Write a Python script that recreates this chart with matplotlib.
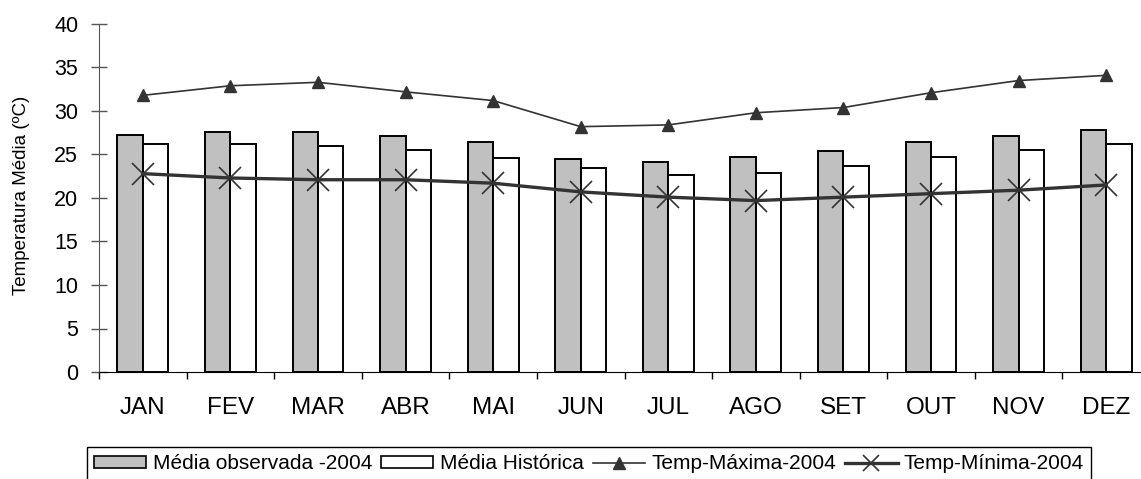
import numpy as np
import matplotlib
matplotlib.use("Agg")
import matplotlib.pyplot as plt
from matplotlib.patches import Patch
from matplotlib.lines import Line2D

plt.rcParams['font.family'] = ['Liberation Sans', 'DejaVu Sans']

# dados mensais de temperatura (ºC)
meses = ["JAN", "FEV", "MAR", "ABR", "MAI", "JUN", "JUL", "AGO", "SET", "OUT", "NOV", "DEZ"]
media_obs_2004 = [27.2, 27.6, 27.6, 27.1, 26.4, 24.5, 24.1, 24.7, 25.4, 26.4, 27.1, 27.8]
media_historica = [26.2, 26.2, 26.0, 25.5, 24.6, 23.5, 22.7, 22.9, 23.7, 24.7, 25.5, 26.2]
temp_max_2004 = [31.8, 32.9, 33.3, 32.2, 31.2, 28.2, 28.4, 29.8, 30.4, 32.1, 33.5, 34.1]
temp_min_2004 = [22.8, 22.3, 22.1, 22.1, 21.7, 20.7, 20.1, 19.7, 20.1, 20.5, 20.9, 21.5]

cinza_linha = '#333333'
largura = 0.29
W, H = 1141, 479

fig = plt.figure(figsize=(W / 100, H / 100), dpi=100)
ax = fig.add_axes([99 / W, 107 / H, 1051 / W, 348 / H])

x = np.arange(len(meses))
ax.bar(x - largura / 2, media_obs_2004, largura, color='#c0c0c0', edgecolor='black', linewidth=1.4, zorder=2)
ax.bar(x + largura / 2, media_historica, largura, color='white', edgecolor='black', linewidth=1.4, zorder=2)

ax.plot(x, temp_max_2004, color=cinza_linha, linewidth=1.2, marker='^', markersize=9, zorder=3)
ax.plot(x, temp_min_2004, color=cinza_linha, linewidth=2.4, marker='x', markersize=16,
        markeredgewidth=1.2, zorder=3)

ax.set_xlim(-0.5, len(meses) - 0.5)
ax.set_ylim(0, 40)
ax.set_yticks(np.arange(0, 41, 5))
ax.set_xticks(x)
ax.set_xticklabels(meses)
ax.set_xticks(np.arange(-0.5, len(meses), 1), minor=True)

for lado in ['top', 'right']:
    ax.spines[lado].set_visible(False)
ax.spines['left'].set_color('#555555')
ax.spines['bottom'].set_color('black')

ax.tick_params(axis='y', direction='inout', length=12, width=1, colors='#555555', labelcolor='black',
               labelsize=15.5, pad=9)
ax.tick_params(axis='x', which='major', length=0, labelsize=17.5, pad=18)
ax.tick_params(axis='x', which='minor', direction='out', length=5, width=1, color='black')

# rótulo do eixo y em fonte estreita
fig.text(22 / W, 1 - 195.5 / H, "Temperatura Média (ºC)", rotation=90, ha='center', va='center',
         fontsize=13.5, family=['Liberation Sans Narrow', 'Liberation Sans'])

legenda = [
    Patch(facecolor='#c0c0c0', edgecolor='black', linewidth=1.2, label="Média observada -2004"),
    Patch(facecolor='white', edgecolor='black', linewidth=1.2, label="Média Histórica"),
    Line2D([], [], color=cinza_linha, linewidth=1.2, marker='^', markersize=9, label="Temp-Máxima-2004"),
    Line2D([], [], color=cinza_linha, linewidth=2.4, marker='x', markersize=11, markeredgewidth=1.2,
           label="Temp-Mínima-2004"),
]
leg = fig.legend(handles=legenda, ncol=4, loc='upper left', bbox_to_anchor=(87 / W, 1 - 447 / H),
                 fontsize=15, frameon=True, fancybox=False, edgecolor='black', framealpha=1,
                 handlelength=2.5, handleheight=0.5, handletextpad=0.3, columnspacing=0.45,
                 borderpad=0.35, borderaxespad=0)
leg.get_frame().set_linewidth(1.0)

fig.savefig("out.png", dpi=100)
